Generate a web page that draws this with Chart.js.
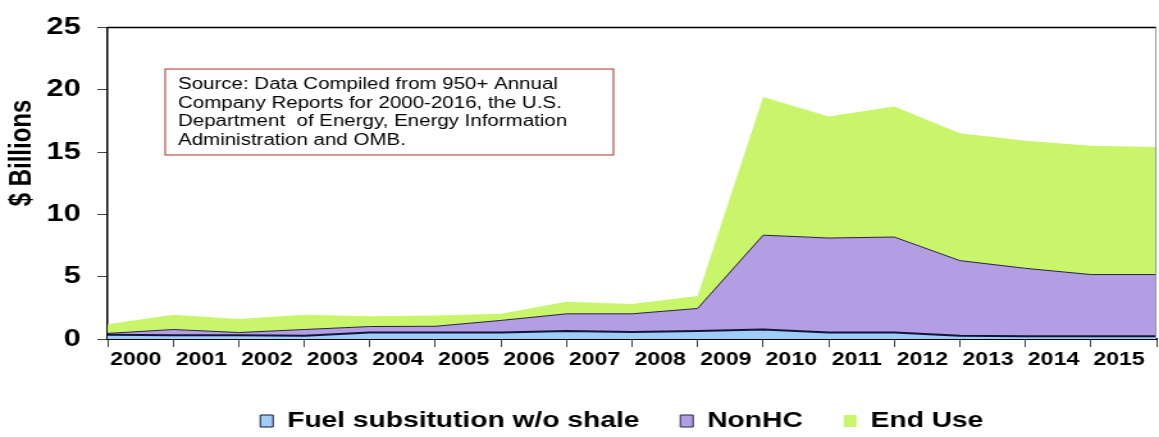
<!DOCTYPE html>
<html>
<head>
<meta charset="utf-8">
<script src="https://cdn.jsdelivr.net/npm/chart.js@4"></script>
<style>
  html, body { margin: 0; padding: 0; background: #fff; overflow: hidden; }
  /* the reference is a horizontally stretched picture, so the chart is stretched too */
  #wrap { position: absolute; left: 0; top: 0; width: 905px; height: 437px;
          transform: scaleX(1.2807); transform-origin: 0 0; }
</style>
</head>
<body>
<div id="wrap"><canvas id="areaChart"></canvas></div>
<script>
// data: one point per year 2000-2016, in $ billions
const years = ['2000', '2001', '2002', '2003', '2004', '2005', '2006', '2007', '2008',
  '2009', '2010', '2011', '2012', '2013', '2014', '2015', '2016'];
const fuelSubstitution = [0.35, 0.3, 0.3, 0.26, 0.52, 0.52, 0.52, 0.65, 0.57, 0.65,
  0.76, 0.52, 0.52, 0.26, 0.23, 0.23, 0.23];
const nonHC = [0.1, 0.46, 0.22, 0.5, 0.48, 0.5, 0.97, 1.37, 1.45, 1.8,
  7.57, 7.58, 7.66, 6.03, 5.44, 4.94, 4.94];
const endUse = [0.73, 1.18, 1.08, 1.18, 0.83, 0.87, 0.53, 0.97, 0.78, 1.0,
  11.09, 9.75, 10.47, 10.21, 10.23, 10.33, 10.23];
const seriesNames = ['Fuel subsitution w/o shale', 'NonHC', 'End Use'];
const sourceNote = [
  'Source: Data Compiled from 950+ Annual',
  'Company Reports for 2000-2016, the U.S.',
  'Department  of Energy, Energy Information',
  'Administration and OMB.'
];

const FONT = "'Liberation Sans', Arial, sans-serif";
Chart.defaults.font.family = FONT;
Chart.defaults.color = '#000';

// frame, source box, y title, legend placement
const decor = {
  id: 'decor',
  afterInit(chart) {
    const legend = chart.legend;
    const fit = legend.fit;
    legend.fit = function () {
      fit.call(this);
      this.height = 59;
    };
  },
  afterLayout(chart) {
    chart.legend.left += 33;
    chart.legend.right += 33;
  },
  afterDraw(chart) {
    const ctx = chart.ctx;
    const a = chart.chartArea;
    ctx.save();
    ctx.strokeStyle = '#000';
    ctx.lineWidth = 1.5;
    ctx.beginPath();
    ctx.moveTo(a.left, a.top);
    ctx.lineTo(a.right, a.top);
    ctx.stroke();
    ctx.strokeStyle = '#999';
    ctx.lineWidth = 1;
    ctx.beginPath();
    ctx.moveTo(a.right - 0.5, a.top);
    ctx.lineTo(a.right - 0.5, a.bottom);
    ctx.stroke();

    ctx.strokeStyle = '#b5524f';
    ctx.lineWidth = 1.2;
    ctx.strokeRect(129, 69, 350, 86);
    ctx.fillStyle = '#000';
    ctx.font = '16px ' + FONT;
    ctx.textBaseline = 'middle';
    sourceNote.forEach(function (line, i) {
      ctx.fillText(line, 139, 85 + i * 18.4);
    });

    ctx.translate(17, 153);
    ctx.rotate(-Math.PI / 2);
    ctx.font = 'bold 24px ' + FONT;
    ctx.textAlign = 'center';
    ctx.fillText('$ Billions', 0, 0);
    ctx.restore();
  }
};

let ctx = document.getElementById('areaChart');
new Chart(ctx, {
  type: 'line',
  data: {
    labels: years,
    datasets: [
      {
        label: seriesNames[0],
        data: fuelSubstitution,
        backgroundColor: '#9ecdf6',
        borderColor: '#14143a',
        borderWidth: 2,
        fill: 'origin',
      },
      {
        label: seriesNames[1],
        data: nonHC,
        backgroundColor: '#b39de3',
        borderColor: '#2a2440',
        borderWidth: 1,
        fill: '-1',
      },
      {
        label: seriesNames[2],
        data: endUse,
        backgroundColor: '#c8f56a',
        borderColor: '#c8f56a',
        borderWidth: 0,
        fill: '-1',
      },
    ],
  },
  options: {
    responsive: true,
    maintainAspectRatio: false,
    animation: false,
    layout: { padding: { top: 21, left: 0, right: 0, bottom: 0 } },
    elements: {
      point: { radius: 0, hoverRadius: 0 },
      line: { tension: 0 },
    },
    scales: {
      x: {
        offset: false,
        grid: { drawOnChartArea: false, drawTicks: true, tickLength: 8, color: '#444' },
        border: { color: '#000', width: 2 },
        ticks: {
          autoSkip: false,
          maxRotation: 0,
          padding: 2,
          labelOffset: 22,
          font: { size: 18, weight: 'bold' },
          callback: function (value, index) {
            return index < years.length - 1 ? this.getLabelForValue(value) : '';
          },
        },
        afterFit: function (scale) { scale.height = 39; },
      },
      y: {
        stacked: true,
        min: 0,
        max: 25,
        grid: { drawOnChartArea: false, drawTicks: true, tickLength: 8, color: '#444' },
        border: { color: '#000', width: 1.5 },
        ticks: { stepSize: 5, padding: 13, font: { size: 24, weight: 'bold' } },
        afterFit: function (scale) { scale.width = 84; },
      },
    },
    plugins: {
      tooltip: { enabled: false },
      legend: {
        position: 'bottom',
        labels: {
          boxWidth: 10,
          boxHeight: 12,
          padding: 32,
          font: { size: 22, weight: 'bold' },
          generateLabels: function (chart) {
            const items = Chart.defaults.plugins.legend.labels.generateLabels(chart);
            items.forEach(function (it) { if (it.lineWidth) it.lineWidth = 1; });
            return items;
          },
        },
      },
    },
  },
  plugins: [decor],
});
</script>
</body>
</html>
